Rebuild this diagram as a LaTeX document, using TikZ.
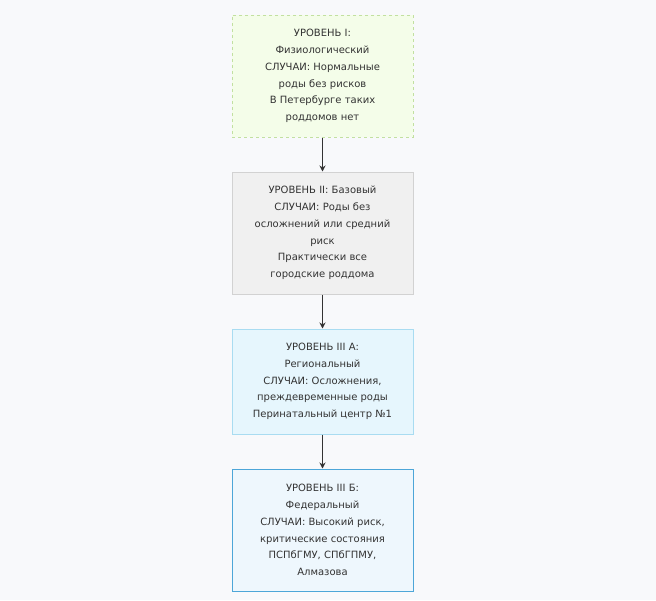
\documentclass[tikz,border=0pt]{standalone}
\usepackage{fontspec}
\setmainfont{DejaVu Sans}
\usetikzlibrary{arrows.meta}
\definecolor{bg}{HTML}{F8F9FB}
\definecolor{gfill}{HTML}{F4FDE9}
\definecolor{gline}{HTML}{C2E0A0}
\definecolor{grfill}{HTML}{F0F0F0}
\definecolor{grline}{HTML}{D2D2D2}
\definecolor{bfill}{HTML}{E6F6FD}
\definecolor{bline}{HTML}{A9DCF1}
\definecolor{dfill}{HTML}{EEF7FD}
\definecolor{dline}{HTML}{4DA6D8}
\definecolor{txt}{HTML}{333333}
\tikzset{
  box/.style={minimum width=181pt, align=center, text=txt, font=\fontsize{10pt}{16.8pt}\selectfont, inner sep=0pt, line width=1pt},
  conn/.style={draw=txt, line width=1pt, -{Stealth[length=6pt,width=6pt]}}
}
\begin{document}
\begin{tikzpicture}[x=1pt,y=1pt]
\fill[bg] (0,0) rectangle (656,-600);
\useasboundingbox (0,0) rectangle (656,-600);
\node[box, draw=gline, fill=gfill, dashed, minimum height=122pt] (l1) at (322.5,-76) {УРОВЕНЬ I:\\Физиологический\\СЛУЧАИ: Нормальные\\роды без рисков\\В Петербурге таких\\роддомов нет};
\node[box, draw=grline, fill=grfill, minimum height=122pt] (l2) at (322.5,-233) {УРОВЕНЬ II: Базовый\\СЛУЧАИ: Роды без\\осложнений или средний\\риск\\Практически все\\городские роддома};
\node[box, draw=bline, fill=bfill, minimum height=105pt] (l3) at (322.5,-381.5) {УРОВЕНЬ III А:\\Региональный\\СЛУЧАИ: Осложнения,\\преждевременные роды\\Перинатальный центр №1};
\node[box, draw=dline, fill=dfill, minimum height=122pt] (l4) at (322.5,-530) {УРОВЕНЬ III Б:\\Федеральный\\СЛУЧАИ: Высокий риск,\\критические состояния\\ПСПбГМУ, СПбГПМУ,\\Алмазова};
\draw[conn] (l1) -- (l2);
\draw[conn] (l2) -- (l3);
\draw[conn] (l3) -- (l4);
\end{tikzpicture}
\end{document}
